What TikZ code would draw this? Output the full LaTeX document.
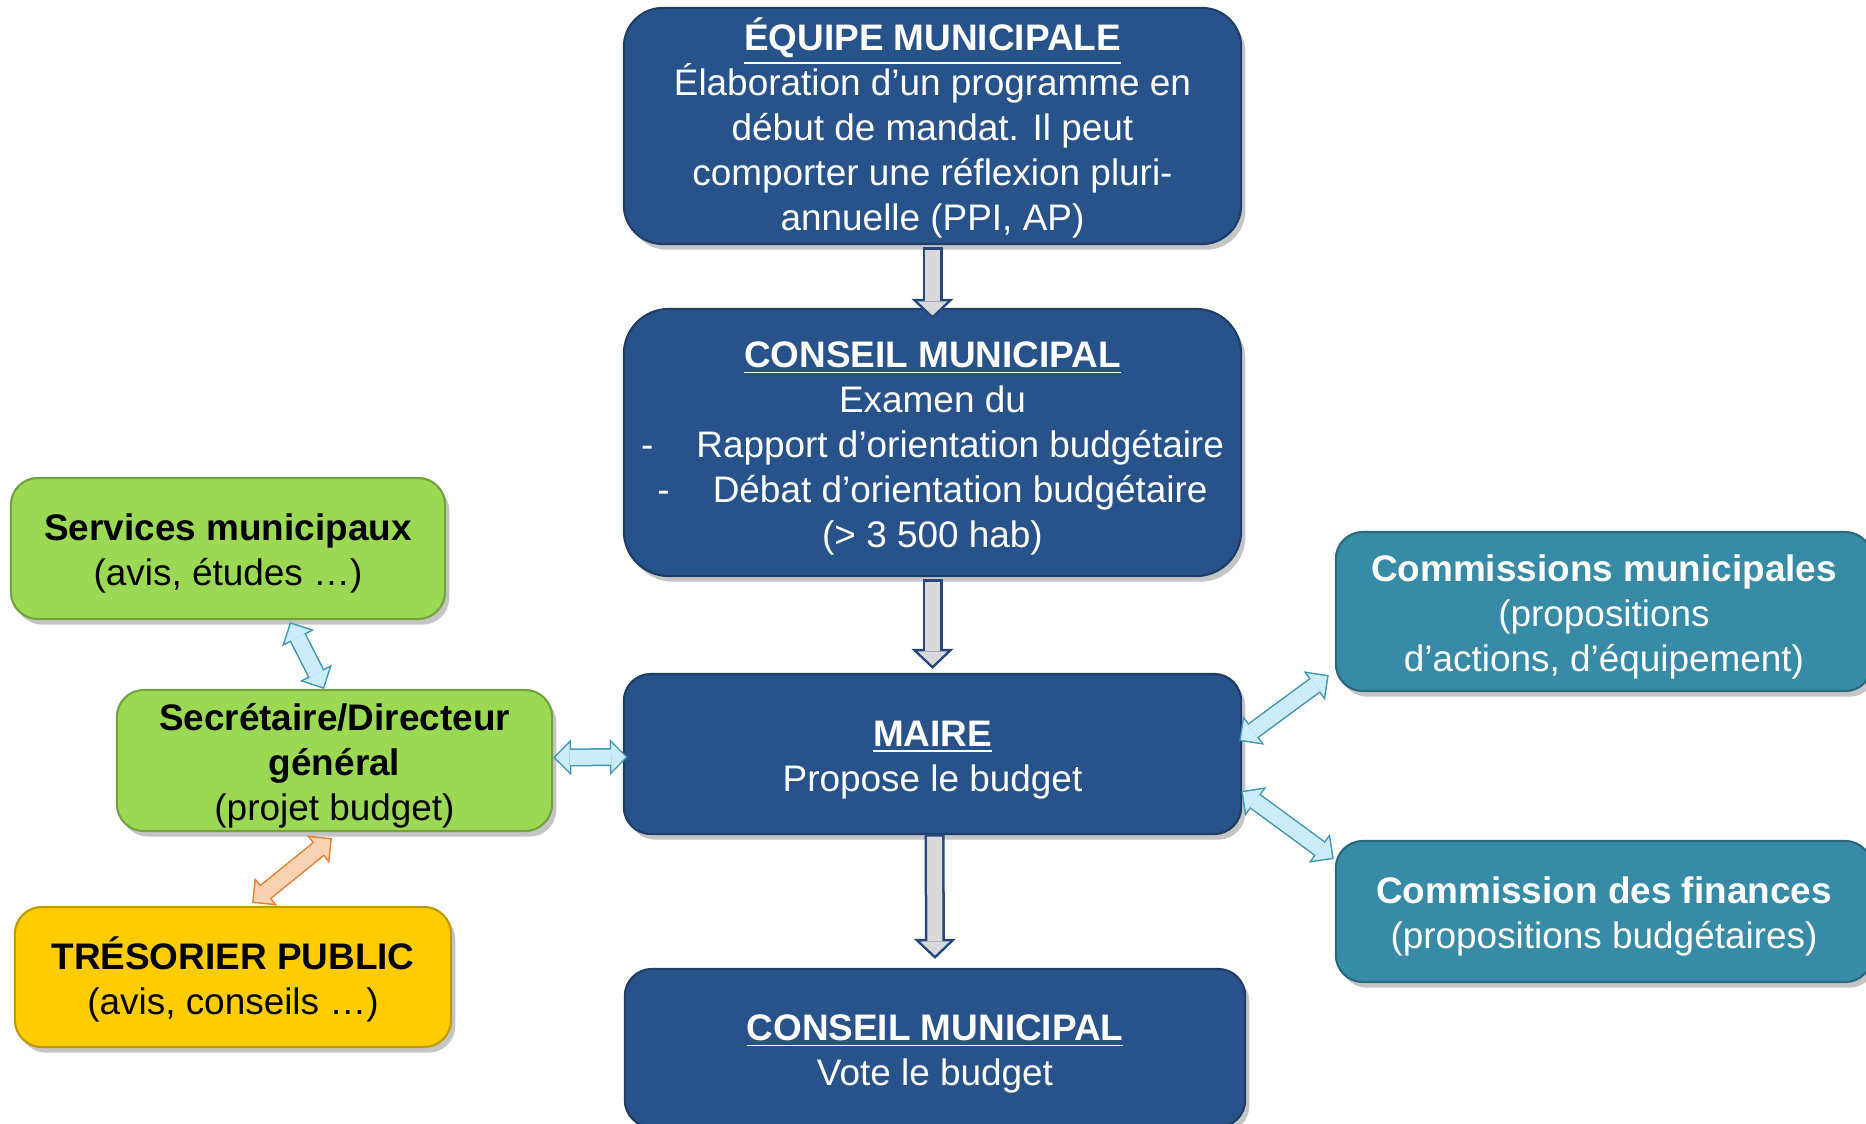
\documentclass[tikz,border=0pt]{standalone}
\usepackage{fontspec}
\setmainfont{Liberation Sans}
\usepackage{xcolor}
\usetikzlibrary{calc,shadows,arrows.meta}

\definecolor{boxblue}{RGB}{40,82,138}
\definecolor{boxgreen}{RGB}{155,216,84}
\definecolor{boxyellow}{RGB}{255,204,0}
\definecolor{boxteal}{RGB}{55,139,166}
\definecolor{arrownavy}{RGB}{37,71,125}
\definecolor{arrowgrey}{RGB}{217,217,217}
\definecolor{linkline}{RGB}{65,150,180}
\definecolor{linkfill}{RGB}{205,236,250}
\definecolor{orangeline}{RGB}{235,125,50}
\definecolor{orangefill}{RGB}{250,210,180}

% first line of a box: a bit taller, so the text sits lower
\newcommand\topstrut{\rule{0pt}{10.5pt}}
% underlined title line, without extra depth
\newcommand\boxtitle[1]{\topstrut\raisebox{0pt}[\height][0pt]{\underline{\textbf{#1}}}}

\tikzset{
  panel/.style={draw=#1!75!black, fill=#1, line width=0.6pt, rounded corners=0.27cm,
    inner sep=0pt, align=center, font=\fontsize{10.5}{12.8}\selectfont,
    drop shadow={shadow xshift=1.2pt, shadow yshift=-1.6pt, opacity=0.45}},
  bluepanel/.style={panel=boxblue, text=white},
  greyarrow/.style={
    preaction={draw=arrownavy, line width=0.2cm, shorten <=0pt, shorten >=0pt,
      -{Triangle[length=0.2cm, width=0.42cm, line width=0pt]}},
    draw=arrowgrey, line width=0.15cm, shorten <=0.025cm, shorten >=0.0345cm,
    -{Triangle[length=0.14cm, width=0.295cm, line width=0pt]}},
  pairarrow/.style 2 args={
    preaction={draw=#1, line width=0.18cm, shorten <=0pt, shorten >=0pt,
      {Triangle[length=0.18cm, width=0.36cm, line width=0pt]}-{Triangle[length=0.18cm, width=0.36cm, line width=0pt]}},
    draw=#2, line width=0.15cm, shorten <=0.021cm, shorten >=0.021cm,
    {Triangle[length=0.144cm, width=0.288cm, line width=0pt]}-{Triangle[length=0.144cm, width=0.288cm, line width=0pt]}}
}

\begin{document}
\begin{tikzpicture}[x=0.01cm, y=-0.01cm]
  \useasboundingbox (0,0) rectangle (1866,1124);
  \clip (0,0) rectangle (1866,1124);
  \fill[white] (0,0) rectangle (1866,1124);

  % Central column
  \node[bluepanel, rounded corners=0.39cm, minimum width=6.17cm, minimum height=2.36cm] (equipe) at (932.5,126)
    {\boxtitle{ÉQUIPE MUNICIPALE}\\Élaboration d’un programme en\\début de mandat. Il peut\\comporter une réflexion pluri-\\annuelle (PPI, AP)};
  \node[bluepanel, rounded corners=0.45cm, minimum width=6.17cm, minimum height=2.67cm] (conseilA) at (932.5,442.5)
    {\boxtitle{CONSEIL MUNICIPAL}\\Examen du\\-\hspace{0.43cm}Rapport d’orientation budgétaire\\-\hspace{0.43cm}Débat d’orientation budgétaire\\(> 3~500 hab)};
  \node[bluepanel, minimum width=6.17cm, minimum height=1.60cm] (maire) at (932.5,754)
    {\boxtitle{MAIRE}\\Propose le budget};
  \node[bluepanel, minimum width=6.20cm, minimum height=1.58cm] (conseilB) at (935,1048)
    {\boxtitle{CONSEIL MUNICIPAL}\\Vote le budget};

  % Left side
  \node[panel=boxgreen, minimum width=4.34cm, minimum height=1.41cm] (services) at (228,548.5)
    {\topstrut\textbf{Services municipaux}\\(avis, études …)};
  \node[panel=boxgreen, minimum width=4.35cm, minimum height=1.41cm] (secretaire) at (334.5,760.5)
    {\topstrut\textbf{Secrétaire/Directeur}\\\textbf{général}\\(projet budget)};
  \node[panel=boxyellow, minimum width=4.36cm, minimum height=1.40cm] (tresorier) at (233,977)
    {\topstrut\textbf{TRÉSORIER PUBLIC}\\(avis, conseils …)};

  % Right side
  \node[panel=boxteal, text=white, minimum width=5.36cm, minimum height=1.59cm] (commissions) at (1604,611.5)
    {\topstrut\textbf{Commissions municipales}\\(propositions\\d’actions, d’équipement)};
  \node[panel=boxteal, text=white, minimum width=5.36cm, minimum height=1.41cm] (finances) at (1604,911.5)
    {\topstrut\textbf{Commission des finances}\\(propositions budgétaires)};

  % Arrows
  \draw[greyarrow] ($(equipe.south)+(0,2)$) -- ($(conseilA.north)+(0,11)$);
  \draw[greyarrow] ($(conseilA.south)+(0,2)$) -- ($(maire.north)+(0,-4)$);
  \draw[greyarrow] ($(maire.south)+(2,-1)$) -- ($(conseilB.north)+(0,-9)$);

  \draw[pairarrow={linkline}{linkfill}] ($(services.south)+(62,2)$) -- ($(secretaire.north)+(-10.5,0)$);
  \draw[pairarrow={linkline}{linkfill}] ($(secretaire.east)+(0,-3)$) -- ($(maire.west)+(5,3)$);
  \draw[pairarrow={orangeline}{orangefill}] ($(tresorier.north)+(19,-3)$) -- ($(secretaire.south)+(-2.5,6)$);
  \draw[pairarrow={linkline}{linkfill}] ($(maire.east)+(-3,-13)$) -- ($(commissions.south west)+(-6,-17)$);
  \draw[pairarrow={linkline}{linkfill}] ($(maire.east)+(-1,37)$) -- ($(finances.north west)+(-1,19)$);
\end{tikzpicture}
\end{document}
